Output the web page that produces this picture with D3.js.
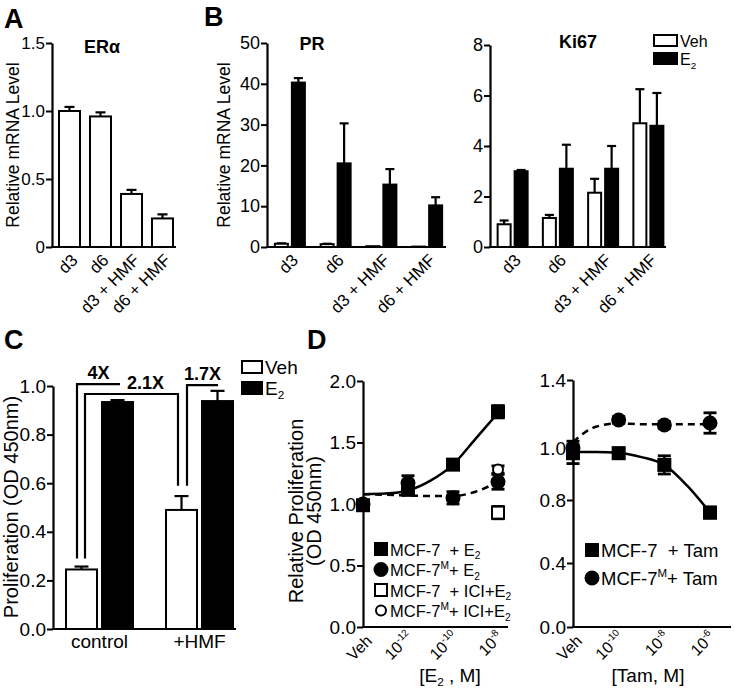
<!DOCTYPE html>
<html>
<head>
<meta charset="utf-8">
<script src="https://cdn.jsdelivr.net/npm/d3@7"></script>
<style>
  body { margin: 0; background: #fff; }
  svg text { fill: #000; }
</style>
</head>
<body>
<svg id="fig" width="735" height="692"></svg>
<script>
// ---------- data ----------
const groups = ["d3", "d6", "d3 + HMF", "d6 + HMF"];

// A: ERalpha, vehicle only
const eraVeh = [1.0, 0.96, 0.39, 0.21];
const eraVehErr = [0.03, 0.03, 0.03, 0.03];
const eraTicks = [0, 0.5, 1.0, 1.5];
const eraTickLabels = ["0", "0.5", "1.0", "1.5"];

// B: PR and Ki67
const prVeh = [0.8, 0.7, 0.2, 0.1];
const prVehErr = [0.1, 0.1, 0, 0];
const prE2 = [40.3, 20.5, 15.3, 10.2];
const prE2Err = [1.1, 9.8, 3.8, 2.0];
const prTicks = [0, 10, 20, 30, 40, 50];

const kiVeh = [0.9, 1.15, 2.15, 4.9];
const kiVehErr = [0.15, 0.12, 0.55, 1.35];
const kiE2 = [3.0, 3.1, 3.1, 4.8];
const kiE2Err = [0.05, 0.95, 0.9, 1.3];
const kiTicks = [0, 2, 4, 6, 8];

// C: proliferation
const cGroups = ["control", "+HMF"];
const cVeh = [0.245, 0.49];
const cVehErr = [0.012, 0.057];
const cE2 = [0.934, 0.938];
const cE2Err = [0.008, 0.042];
const cTicks = [0, 0.2, 0.4, 0.6, 0.8, 1.0];
const bracketLabels = ["4X", "2.1X", "1.7X"];
const bracketFrom = [["control", "Veh"], ["control", "Veh"], ["+HMF", "Veh"]];
const bracketTo = [["control", "E2"], ["+HMF", "Veh"], ["+HMF", "E2"]];
const bracketLevel = [1.008, 0.967, 1.004];
const bracketFootFrom = [0.29, 0.29, 0.59];
const bracketFootTo = [null, 0.59, null];

// D left: E2 dose response (log10 M)
const doseE2 = [-14, -12, -10, -8];          // -14 stands for "Veh"
const doseE2Labels = ["Veh", "-12", "-10", "-8"];
const mcf7E2 = [0.99, 1.12, 1.32, 1.75];
const mcf7E2Err = [0.03, 0.05, 0.02, 0.05];
const mcf7mE2 = [1.0, 1.17, 1.05, 1.18];
const mcf7mE2Err = [0.03, 0.06, 0.05, 0.06];
const mcf7Ici = [null, null, null, 0.93];
const mcf7IciErr = [0, 0, 0, 0.05];
const mcf7mIci = [null, null, null, 1.28];
const mcf7mIciErr = [0, 0, 0, 0.03];
const fitE2Mcf7 = [[-14, 1.08], [-13, 1.085], [-12, 1.11], [-11, 1.19], [-10, 1.32], [-9, 1.53], [-8, 1.74]];
const fitE2Mcf7m = [[-14, 1.08], [-12, 1.07], [-11, 1.065], [-10, 1.065], [-9, 1.1], [-8, 1.18]];
const dLeftTicks = [0, 0.5, 1.0, 1.5, 2.0];

// D right: tamoxifen dose response
const doseTam = [-12, -10, -8, -6];          // -12 stands for "Veh"
const doseTamLabels = ["Veh", "-10", "-8", "-6"];
const mcf7Tam = [0.98, 0.98, 0.935, 0.72];
const mcf7TamErr = [0.04, 0.02, 0.035, 0.035];
const mcf7mTam = [1.0, 1.165, 1.135, 1.147];
const mcf7mTamErr = [0.04, 0.02, 0.02, 0.06];
const fitTamMcf7 = [[-12, 0.985], [-11, 0.985], [-10, 0.982], [-9, 0.965], [-8, 0.935], [-7, 0.855], [-6, 0.72]];
const fitTamMcf7m = [[-12, 1.035], [-11.5, 1.09], [-11, 1.125], [-10, 1.145], [-9, 1.14], [-8, 1.14], [-6, 1.14]];
const dRightTicks = [0, 0.4, 0.8, 1.0, 1.4];

// ---------- setup ----------
const FONT = '"Liberation Sans", Arial, Helvetica, sans-serif';
const svg = d3.select("#fig").attr("font-family", FONT);

// append text made of plain / sub / sup parts
function rich(sel, parts, size) {
  let shift = 0;
  parts.forEach(([t, k]) => {
    const ts = sel.append("tspan").text(t);
    let target = 0;
    if (k === "sub") target = size * 0.22;
    if (k === "sup") target = -size * 0.42;
    ts.attr("dy", target - shift);
    if (k) ts.attr("font-size", size * 0.62);
    shift = target;
  });
  return sel;
}

function yAxis(x, y, ticks, fmt, size) {
  const g = svg.append("g")
    .attr("transform", `translate(${x},0)`)
    .call(d3.axisLeft(y).tickValues(ticks).tickFormat(fmt)
      .tickSize(6).tickSizeOuter(0).tickPadding(1));
  g.attr("font-family", FONT).attr("font-size", size || 17);
  g.select(".domain").attr("stroke-width", 2.2);
  g.selectAll(".tick line").attr("stroke-width", 2);
  return g;
}

function hLine(x1, x2, y) {
  svg.append("line").attr("x1", x1).attr("x2", x2).attr("y1", y).attr("y2", y)
    .attr("stroke", "#000").attr("stroke-width", 2.2);
}

function rotLabels(x, y0, size) {
  const g = svg.append("g").attr("transform", `translate(0,${y0})`)
    .call(d3.axisBottom(x).tickSize(0));
  g.select(".domain").remove();
  g.attr("font-family", FONT).attr("font-size", size);
  g.selectAll(".tick text")
    .attr("x", 0).attr("y", 0).attr("dy", ".35em")
    .attr("text-anchor", "end")
    .attr("transform", "translate(5,10) rotate(-45)");
}

function bars(x, y, vals, errs, dx, w, fill, capW) {
  const g = svg.append("g");
  groups.forEach((c, i) => {
    const cx = x(c) + x.bandwidth() / 2 + dx;
    if (errs[i] > 0) {
      g.append("line").attr("x1", cx).attr("x2", cx)
        .attr("y1", y(vals[i])).attr("y2", y(vals[i] + errs[i]))
        .attr("stroke", "#000").attr("stroke-width", 2.2);
      g.append("line").attr("x1", cx - capW / 2).attr("x2", cx + capW / 2)
        .attr("y1", y(vals[i] + errs[i])).attr("y2", y(vals[i] + errs[i]))
        .attr("stroke", "#000").attr("stroke-width", 2.2);
    }
    g.append("rect")
      .attr("x", cx - w / 2).attr("y", y(vals[i]))
      .attr("width", w).attr("height", Math.max(0, y(0) - y(vals[i])))
      .attr("fill", fill).attr("stroke", "#000").attr("stroke-width", 2);
  });
}

function title(x, y, t, size) {
  return svg.append("text").attr("x", x).attr("y", y)
    .attr("text-anchor", "middle").attr("font-weight", "bold")
    .attr("font-size", size || 18).text(t);
}

function yTitle(x, y, t, size) {
  return svg.append("text").attr("transform", `translate(${x},${y}) rotate(-90)`)
    .attr("text-anchor", "middle").attr("font-size", size).text(t);
}

// panel letters
[["A", 4, 28], ["B", 204, 26], ["C", 4, 349], ["D", 307, 349]].forEach(([t, x, y]) => {
  svg.append("text").attr("x", x).attr("y", y).attr("font-size", 27)
    .attr("font-weight", "bold").text(t);
});

// ---------- A ----------
const yA = d3.scaleLinear().domain([0, 1.5]).range([247, 43]);
const xA = d3.scaleBand().domain(groups).range([54, 178]);
yAxis(52, yA, eraTicks, (d, i) => eraTickLabels[i]);
hLine(51, 176, 247);
bars(xA, yA, eraVeh, eraVehErr, 0, 21, "#fff", 10);
rotLabels(xA, 247, 17);
rich(title(102, 53, ""), [["ER"], ["\u03b1"]], 18);
yTitle(19, 145, "Relative mRNA Level", 17.5);

// ---------- B: PR ----------
const yPR = d3.scaleLinear().domain([0, 50]).range([247, 43]);
const xPR = d3.scaleBand().domain(groups).range([267, 450]);
yAxis(267, yPR, prTicks, d3.format("d"), 18);
hLine(266, 446, 247);
bars(xPR, yPR, prVeh, prVehErr, -8.5, 13, "#fff", 9);
bars(xPR, yPR, prE2, prE2Err, 8.5, 13, "#000", 9);
rotLabels(xPR, 247, 17);
title(312, 50, "PR");
yTitle(230, 145, "Relative mRNA Level", 17.5);

// ---------- B: Ki67 ----------
const yKi = d3.scaleLinear().domain([0, 8]).range([247, 45]);
const xKi = d3.scaleBand().domain(groups).range([490, 671]);
yAxis(490, yKi, kiTicks, d3.format("d"), 18);
hLine(489, 666, 247);
bars(xKi, yKi, kiVeh, kiVehErr, -8.5, 13, "#fff", 9);
bars(xKi, yKi, kiE2, kiE2Err, 8.5, 13, "#000", 9);
rotLabels(xKi, 247, 17);
title(578, 48, "Ki67");

// legend Veh / E2 (shared style)
const legendLabels = [[["Veh"]], [["E"], ["2", "sub"]]];
function barLegend(x, y, bw, bh, gap, size) {
  legendLabels.forEach((parts, i) => {
    svg.append("rect").attr("x", x).attr("y", y + i * gap)
      .attr("width", bw).attr("height", bh)
      .attr("fill", i ? "#000" : "#fff").attr("stroke", "#000").attr("stroke-width", 2);
    rich(svg.append("text").attr("x", x + bw + 3).attr("y", y + i * gap + bh + 1)
      .attr("font-size", size), parts, size);
  });
}
barLegend(654, 35, 23, 11, 18, 16);

// ---------- C ----------
const yC = d3.scaleLinear().domain([0, 1]).range([629, 386]);
const xC = d3.scaleBand().domain(cGroups).range([49.5, 249.5]);
const cSeries = { Veh: { v: cVeh, e: cVehErr, dx: -18, fill: "#fff" }, E2: { v: cE2, e: cE2Err, dx: 18, fill: "#000" } };
const cx = (g, s) => xC(g) + xC.bandwidth() / 2 + cSeries[s].dx;
yAxis(53, yC, cTicks, d3.format(".1f"), 19);
hLine(52, 236, 629);
Object.keys(cSeries).forEach(s => {
  const S = cSeries[s];
  cGroups.forEach((g, i) => {
    const x = cx(g, s), top = yC(S.v[i]), et = yC(S.v[i] + S.e[i]);
    svg.append("line").attr("x1", x).attr("x2", x).attr("y1", top).attr("y2", et)
      .attr("stroke", "#000").attr("stroke-width", 2.2);
    svg.append("line").attr("x1", x - 7).attr("x2", x + 7).attr("y1", et).attr("y2", et)
      .attr("stroke", "#000").attr("stroke-width", 2.2);
    svg.append("rect").attr("x", x - 15.5).attr("y", top)
      .attr("width", 31).attr("height", yC(0) - top)
      .attr("fill", S.fill).attr("stroke", "#000").attr("stroke-width", 2);
  });
});
cGroups.forEach(g => {
  svg.append("text").attr("x", xC(g) + xC.bandwidth() / 2).attr("y", 648)
    .attr("text-anchor", "middle").attr("font-size", 19).text(g);
});
// fold-change brackets
const bracketDx = [[-4.5, 2.5], [3.5, -3.5], [5.5, 0.5]];
const bracketTextX = [0, 14, 0];
bracketLabels.forEach((lab, i) => {
  const x1 = cx(...bracketFrom[i]) + bracketDx[i][0];
  const x2 = cx(...bracketTo[i]) + bracketDx[i][1];
  const yl = yC(bracketLevel[i]);
  const pts = [[x1, yC(bracketFootFrom[i])], [x1, yl], [x2, yl]];
  if (bracketFootTo[i] !== null) pts.push([x2, yC(bracketFootTo[i])]);
  svg.append("path").attr("d", d3.line()(pts)).attr("fill", "none")
    .attr("stroke", "#000").attr("stroke-width", 2.2);
  svg.append("text").attr("x", (x1 + x2) / 2 + bracketTextX[i]).attr("y", yl - 5)
    .attr("text-anchor", "middle").attr("font-weight", "bold").attr("font-size", 18).text(lab);
});
barLegend(242, 361, 20, 12, 21, 19);
yTitle(18, 507, "Proliferation (OD 450nm)", 20);

// ---------- D helpers ----------
function marker(g, type, x, y) {
  if (type === "sq" || type === "osq") {
    g.append("rect").attr("x", x - 6).attr("y", y - 6).attr("width", 12).attr("height", 12)
      .attr("fill", type === "sq" ? "#000" : "#fff").attr("stroke", "#000").attr("stroke-width", 2);
  } else {
    g.append("circle").attr("cx", x).attr("cy", y).attr("r", type === "ci" ? 6.5 : 5)
      .attr("fill", type === "ci" ? "#000" : "#fff").attr("stroke", "#000").attr("stroke-width", 2);
  }
}

function series(x, y, doses, vals, errs, type) {
  const g = svg.append("g");
  doses.forEach((d, i) => {
    if (vals[i] === null) return;
    const px = x(d);
    if (errs[i] > 0) {
      const y1 = y(vals[i] - errs[i]), y2 = y(vals[i] + errs[i]);
      g.append("line").attr("x1", px).attr("x2", px).attr("y1", y1).attr("y2", y2)
        .attr("stroke", "#000").attr("stroke-width", 2.5);
      [y1, y2].forEach(yy => g.append("line").attr("x1", px - 6.5).attr("x2", px + 6.5)
        .attr("y1", yy).attr("y2", yy).attr("stroke", "#000").attr("stroke-width", 2.8));
    }
    marker(g, type, px, y(vals[i]));
  });
}

function fit(x, y, pts, dashed) {
  svg.append("path")
    .attr("d", d3.line().x(d => x(d[0])).y(d => y(d[1])).curve(d3.curveMonotoneX)(pts))
    .attr("fill", "none").attr("stroke", "#000").attr("stroke-width", 2.5)
    .attr("stroke-dasharray", dashed ? "7,5" : null);
}

function doseLabels(x, y0, doses, labels) {
  doses.forEach((d, i) => {
    const t = svg.append("text")
      .attr("transform", `translate(${x(d) + 6},${y0 + 11}) rotate(-45)`)
      .attr("text-anchor", "end").attr("dy", ".35em").attr("font-size", 16);
    if (labels[i] === "Veh") t.text("Veh");
    else rich(t, [["10"], [labels[i], "sup"]], 16);
  });
}

function legendRows(x, y0, gap, rows, size) {
  rows.forEach(([type, parts], i) => {
    const yy = y0 + i * gap;
    const g = svg.append("g");
    marker(g, type, x, yy);
    rich(svg.append("text").attr("x", x + 9).attr("y", yy + 6.5).attr("font-size", size), parts, size);
  });
}

// ---------- D left ----------
const yDL = d3.scaleLinear().domain([0, 2]).range([627, 381]);
const xDL = d3.scaleLinear().domain([-14, -8]).range([363, 498]);
yAxis(363, yDL, dLeftTicks, d3.format(".1f"), 19);
hLine(362, 508, 627);
fit(xDL, yDL, fitE2Mcf7, false);
fit(xDL, yDL, fitE2Mcf7m, true);
series(xDL, yDL, doseE2, mcf7E2, mcf7E2Err, "sq");
series(xDL, yDL, doseE2, mcf7mE2, mcf7mE2Err, "ci");
series(xDL, yDL, doseE2, mcf7Ici, mcf7IciErr, "osq");
series(xDL, yDL, doseE2, mcf7mIci, mcf7mIciErr, "oci");
doseLabels(xDL, 627, doseE2, doseE2Labels);
legendRows(381, 549, 20.5, [
  ["sq", [["MCF-7\u00a0\u00a0+ E"], ["2", "sub"]]],
  ["ci", [["MCF-7"], ["M", "sup"], ["+ E"], ["2", "sub"]]],
  ["osq", [["MCF-7\u00a0\u00a0+ ICI+E"], ["2", "sub"]]],
  ["oci", [["MCF-7"], ["M", "sup"], ["+ ICI+E"], ["2", "sub"]]]
], 16.5);
rich(svg.append("text").attr("x", 450).attr("y", 682).attr("text-anchor", "middle")
  .attr("font-size", 19), [["[E"], ["2", "sub"], [" , M]"]], 19);
yTitle(303, 511, "Relative Proliferation", 20);
yTitle(321, 511, "(OD 450nm)", 20);

// ---------- D right ----------
const yDR = d3.scaleLinear().domain([0, 0.4, 0.8, 1.0, 1.4]).range([627, 563, 500, 448, 380]);
const xDR = d3.scaleLinear().domain([-12, -6]).range([573, 710]);
yAxis(573, yDR, dRightTicks, d3.format(".1f"), 19);
hLine(572, 731, 627);
fit(xDR, yDR, fitTamMcf7, false);
fit(xDR, yDR, fitTamMcf7m, true);
series(xDR, yDR, doseTam, mcf7Tam, mcf7TamErr, "sq");
series(xDR, yDR, doseTam, mcf7mTam, mcf7mTamErr, "ci");
doseLabels(xDR, 627, doseTam, doseTamLabels);
legendRows(592, 550, 28, [
  ["sq", [["MCF-7\u00a0\u00a0+ Tam"]]],
  ["ci", [["MCF-7"], ["M", "sup"], ["+ Tam"]]]
], 18.5);
svg.append("text").attr("x", 648).attr("y", 682).attr("text-anchor", "middle")
  .attr("font-size", 19).text("[Tam, M]");
</script>
</body>
</html>
